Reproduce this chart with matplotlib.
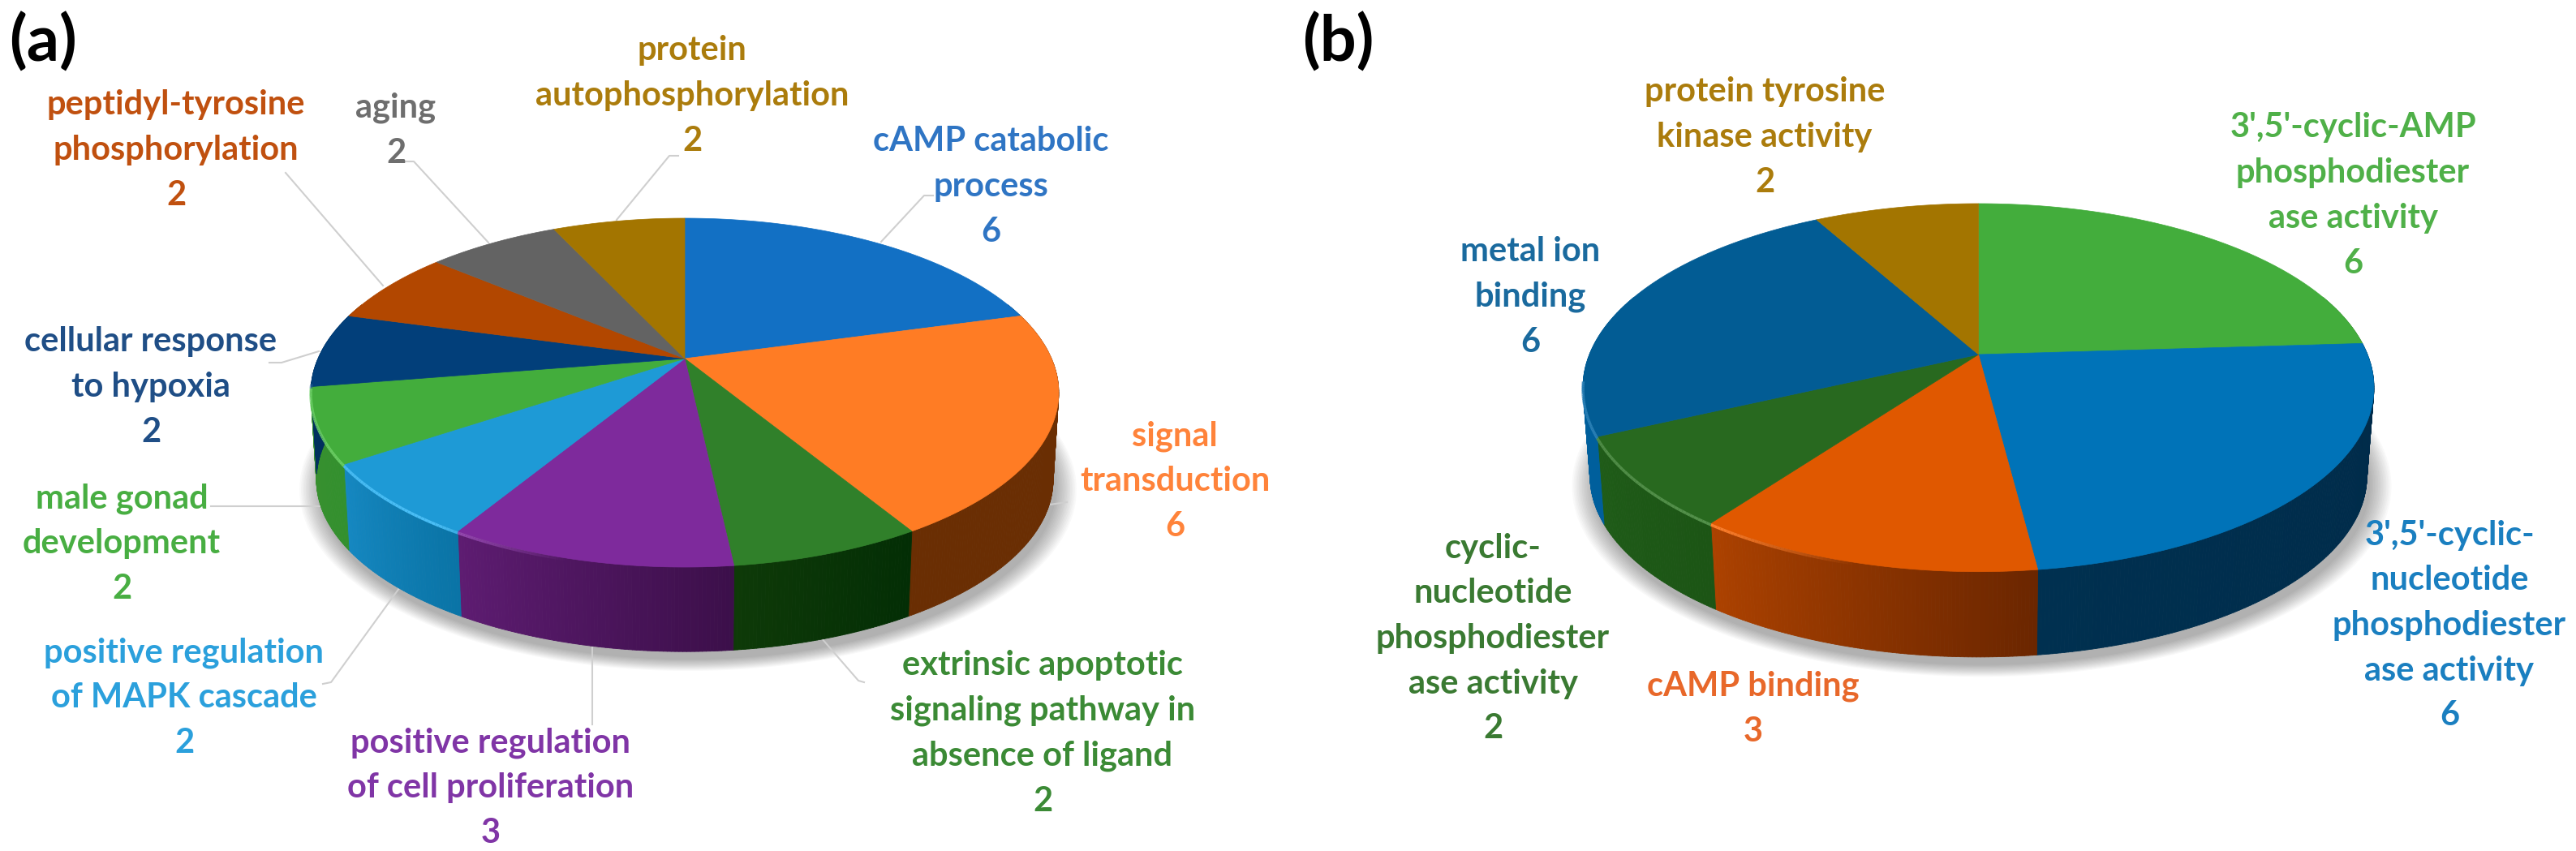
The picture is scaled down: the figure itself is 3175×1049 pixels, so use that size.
import numpy as np
import matplotlib
matplotlib.use('Agg')
import matplotlib.pyplot as plt
from matplotlib.collections import PolyCollection, LineCollection
from matplotlib.colors import to_rgb
from matplotlib.patches import Polygon

plt.rcParams['font.family'] = ['Lato', 'DejaVu Sans']

# panel (a)
labels_a = [
    'cAMP catabolic\nprocess',
    'signal\ntransduction',
    'extrinsic apoptotic\nsignaling pathway in\nabsence of ligand',
    'positive regulation\nof cell proliferation',
    'positive regulation\nof MAPK cascade',
    'male gonad\ndevelopment',
    'cellular response\nto hypoxia',
    'peptidyl-tyrosine\nphosphorylation',
    'aging',
    'protein\nautophosphorylation',
]
counts_a = [6, 6, 2, 3, 2, 2, 2, 2, 2, 2]

# panel (b)
labels_b = [
    "3',5'-cyclic-AMP\nphosphodiester\nase activity",
    "3',5'-cyclic-\nnucleotide\nphosphodiester\nase activity",
    'cAMP binding',
    'cyclic-\nnucleotide\nphosphodiester\nase activity',
    'metal ion\nbinding',
    'protein tyrosine\nkinase activity',
]
counts_b = [6, 6, 3, 2, 6, 2]

# colours: top face, wall start/end (going clockwise), text
top_a = ['#1270C4', '#FF7C24', '#30802A', '#7E2A9C', '#1E9AD6',
         '#43AD3C', '#023F7A', '#B24700', '#636363', '#A37500']
wall0_a = ['#0A3E6E', '#6A2E03', '#032E05', '#3C0F4A', '#0A74A6',
           '#33902E', '#01305E', '#7A3000', '#444444', '#705000']
wall1_a = ['#0A3E6E', '#6A2E03', '#0E3A08', '#5E1C72', '#1588C2',
           '#3A9030', '#01305E', '#7A3000', '#444444', '#705000']
text_a = ['#2F75C4', '#FF833A', '#3B8A35', '#8035A6', '#2BA0DC',
          '#48AE42', '#1F4E86', '#C0500F', '#6E6E6E', '#AB7C0C']

top_b = ['#43AD3C', '#0073B8', '#E05800', '#28691F', '#025C94', '#A37500']
wall0_b = ['#2E7A2A', '#002A48', '#6B2600', '#1C5515', '#005F9C', '#705000']
wall1_b = ['#2E7A2A', '#003050', '#AD4200', '#1F5C18', '#005F9C', '#705000']
text_b = ['#4FB048', '#1A7FC0', '#E8682A', '#3A7A32', '#1A6A9E', '#AB7C0C']

# label block centres in figure pixels
pos_a = [(1221, 230), (1448, 593), (1285, 904), (605, 971), (227, 860),
         (150, 670), (186, 477), (217, 185), (488, 161), (853, 118)]
pos_b = [(2900, 241), (3019, 771), (2161, 874), (1840, 787), (1886, 366), (2175, 169)]

# leader lines of panel (a)
leaders_a = [
    [(1086, 298), (1139, 241), (1150, 241)],
    [(1287, 623), (1315, 619)],
    [(1012, 786), (1058, 839), (1065, 841)],
    [(730, 796), (730, 893)],
    [(495, 721), (408, 841), (398, 843)],
    [(260, 624), (403, 624)],
    [(332, 447), (347, 447), (393, 433)],
    [(352, 213), (472, 352)],
    [(497, 199), (510, 199), (602, 299)],
    [(760, 271), (825, 192), (836, 192)],
]

geom_a = dict(cx=844, apex=442, rx=452, ry=206.8, k=0.1954, bottom=550, shrink=0.985)
geom_b = dict(cx=2438.5, apex=437, rx=479.5, ry=219.5, k=0.18, bottom=547, shrink=0.982)


def rim(t, g, wall=False):
    # circle point seen in perspective, t in degrees clockwise from the top
    t = np.radians(t)
    w = 1 + g['k'] * np.cos(t)
    s = g['shrink'] if wall else 1.0
    y0 = g['bottom'] if wall else g['apex']
    return g['cx'] + s * g['rx'] * np.sin(t) / w, y0 - s * g['ry'] * np.cos(t) / w


def lighten(color, amount=0.18):
    c = np.array(to_rgb(color))
    return tuple(np.clip(c * 1.12 + (1 - c) * amount, 0, 1))


def draw_pie(ax, counts, tops, walls0, walls1, g):
    edges = np.concatenate([[0], np.cumsum(counts)]) / sum(counts) * 360

    # soft shadow under the pie
    tt = np.linspace(0, 360, 240)
    bx, by = rim(tt, g, wall=True)
    for d in np.linspace(1.0, 1.055, 14):
        sx = g['cx'] + (bx - g['cx']) * d + 4
        sy = g['bottom'] + 10 + (by - g['bottom']) * d
        ax.add_patch(Polygon(np.c_[sx, sy], fc='k', ec='none', alpha=0.022, zorder=1))

    # side wall, one narrow strip per step so the colour can run along it
    for t0, t1, c0, c1 in zip(edges[:-1], edges[1:], walls0, walls1):
        a, b = max(t0, 70), min(t1, 290)
        if b <= a:
            continue
        steps = np.linspace(a, b, int(b - a) * 2 + 2)
        tx, ty = rim(steps, g)
        ux, uy = rim(steps, g, wall=True)
        quads = [[(tx[i], ty[i]), (tx[i + 1], ty[i + 1]), (ux[i + 1], uy[i + 1]), (ux[i], uy[i])]
                 for i in range(len(steps) - 1)]
        f = (steps[:-1] - t0) / (t1 - t0)
        cols = [tuple(np.array(to_rgb(c0)) * (1 - v) + np.array(to_rgb(c1)) * v) for v in f]
        ax.add_collection(PolyCollection(quads, facecolors=cols, edgecolors=cols,
                                         linewidths=0.6, zorder=2))

    # top face
    for t0, t1, c in zip(edges[:-1], edges[1:], tops):
        steps = np.linspace(t0, t1, 80)
        x, y = rim(steps, g)
        pts = np.vstack([[g['cx'], g['apex']], np.c_[x, y]])
        ax.add_patch(Polygon(pts, fc=c, ec=c, lw=0.5, zorder=3))

    # bright bevel along the front left rim
    for t0, t1, c in zip(edges[:-1], edges[1:], tops):
        a, b = max(t0, 195), min(t1, 262)
        if b <= a:
            continue
        steps = np.linspace(a, b, 40)
        x, y = rim(steps, g)
        segs = [[(x[i], y[i] + 2), (x[i + 1], y[i + 1] + 2)] for i in range(len(x) - 1)]
        fade = np.interp(steps[:-1], [195, 215, 262], [0.0, 1.0, 0.8])
        col = lighten(c)
        ax.add_collection(LineCollection(segs, colors=[col + (v,) for v in fade],
                                         linewidths=2.5, zorder=4))


fig = plt.figure(figsize=(31.75, 10.49), dpi=100)
ax = fig.add_axes([0, 0, 1, 1])
ax.set_xlim(0, 3175)
ax.set_ylim(1049, 0)
ax.axis('off')

for line in leaders_a:
    xs, ys = zip(*line)
    ax.plot(xs, ys, color='#CFCFCF', lw=1.5, zorder=1.5)

draw_pie(ax, counts_a, top_a, wall0_a, wall1_a, geom_a)
draw_pie(ax, counts_b, top_b, wall0_b, wall1_b, geom_b)

for labels, counts, colors, pos in [(labels_a, counts_a, text_a, pos_a),
                                    (labels_b, counts_b, text_b, pos_b)]:
    for lab, n, c, (x, y) in zip(labels, counts, colors, pos):
        ax.text(x, y, f'{lab}\n{n}', color=c, ha='center', va='center',
                fontsize=30, fontweight='bold', linespacing=1.57, zorder=5)

ax.text(53, 52, '(a)', fontsize=57, fontweight='bold', ha='center', va='center', color='k')
ax.text(1649, 52, '(b)', fontsize=57, fontweight='bold', ha='center', va='center', color='k')

fig.savefig('out.png', dpi=100, facecolor='white')
